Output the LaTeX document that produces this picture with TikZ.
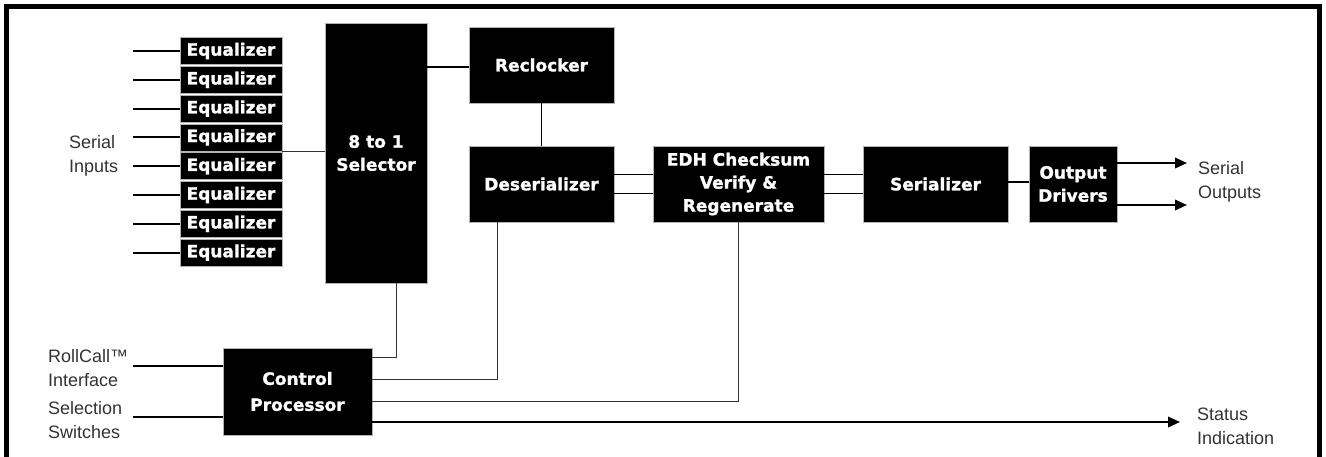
\documentclass[tikz,border=0pt]{standalone}
\usepackage{fontspec}
\setmainfont{Liberation Sans}
\newfontfamily\boxfont[FakeBold=1.3]{DejaVu Sans Bold}
\usetikzlibrary{arrows.meta,calc}
\definecolor{labelgray}{HTML}{333333}
\tikzset{
  blk/.style={rectangle, fill=black, draw=gray!60, line width=0.8pt, text=white,
    font=\boxfont\fontsize{17}{23}\selectfont, align=center, inner sep=0pt},
  lbl/.style={anchor=west, align=left, text=labelgray, inner sep=0pt,
    font=\fontsize{18}{24}\selectfont},
  thick line/.style={line width=2pt, black},
  mid line/.style={line width=1.5pt, black},
  thin line/.style={line width=1.1pt, black!80},
  arr/.style={-{Triangle[length=12pt,width=10.5pt]}},
}
\begin{document}
\begin{tikzpicture}[x=1pt,y=-1pt]
\useasboundingbox (0,0) rectangle (1326,456);
% frame
\draw[line width=5pt] (6.5,460) -- (6.5,6.5) -- (1319,6.5) -- (1319,460);

% equalizers
\foreach \i in {1,...,8}{
  \node[blk, minimum width=102pt, minimum height=27pt] (eq\i) at (231,{51+28.8*(\i-1)}) {Equalizer};
  \coordinate (in\i) at (133,{51+28.8*(\i-1)});
  \draw[thick line] (in\i) -- (eq\i.west);
}
\node[blk, minimum width=102pt, minimum height=260pt] (sel) at (376,153) {8 to 1\\Selector};
\node[blk, minimum width=145pt, minimum height=76pt] (rec) at (541.5,65) {Reclocker};
\node[blk, minimum width=145pt, minimum height=76pt] (des) at (541.5,184) {Deserializer};
\node[blk, minimum width=171pt, minimum height=76pt] (edh) at (738.5,184) {EDH Checksum\\Verify \&\\Regenerate};
\node[blk, minimum width=145pt, minimum height=76pt] (ser) at (935.5,184) {Serializer};
\node[blk, minimum width=88pt, minimum height=76pt] (drv) at (1073,184) {Output\\Drivers};
\node[blk, minimum width=149pt, minimum height=87pt, font=\boxfont\fontsize{17}{26}\selectfont] (cp) at (297.5,391.5) {Control\\Processor};

% labels
\node[lbl] (serin) at (69,156) {Serial\\Inputs};
\node[lbl] (rc) at (48,368) {RollCall™\\Interface};
\node[lbl] (ss) at (48,420) {Selection\\Switches};
\node[lbl] (serout) at (1198,182) {Serial\\Outputs};
\node[lbl] (stat) at (1197,426) {Status\\Indication};

% connectors
\draw[thin line] (eq4.south east) -- (eq4.south east -| sel.west);
\draw[mid line] (sel.east |- 0,67) -- (rec.west |- 0,67);
\draw[mid line] (rec.south) -- (des.north);
\draw[mid line] ($(des.east)+(0,-9.5)$) -- ($(edh.west)+(0,-9.5)$);
\draw[mid line] ($(des.east)+(0,9.5)$) -- ($(edh.west)+(0,9.5)$);
\draw[mid line] ($(edh.east)+(0,-9.5)$) -- ($(ser.west)+(0,-9.5)$);
\draw[mid line] ($(edh.east)+(0,9.5)$) -- ($(ser.west)+(0,9.5)$);
\draw[mid line] ($(ser.east)+(0,-2)$) -- ($(drv.west)+(0,-2)$);
\coordinate (o1) at (1187,163);
\coordinate (o2) at (1187,205);
\draw[thick line, arr] (drv.east |- o1) -- (o1);
\draw[thick line, arr] (drv.east |- o2) -- (o2);

\coordinate (rcin) at (133,366);
\coordinate (ssin) at (133,417);
\draw[thick line] (rcin) -- (cp.west |- rcin);
\draw[thick line] (ssin) -- (cp.west |- ssin);

\draw[thin line] ($(cp.north east)+(0,10)$) -| ($(sel.south west)+(72,0)$);
\draw[thin line] ($(cp.north east)+(0,32)$) -| ($(des.south west)+(29,0)$);
\draw[thin line] ($(cp.north east)+(0,54)$) -| (edh.south);
\coordinate (st) at (1180,422);
\draw[thick line, arr] (cp.east |- st) -- (st);
\end{tikzpicture}
\end{document}
